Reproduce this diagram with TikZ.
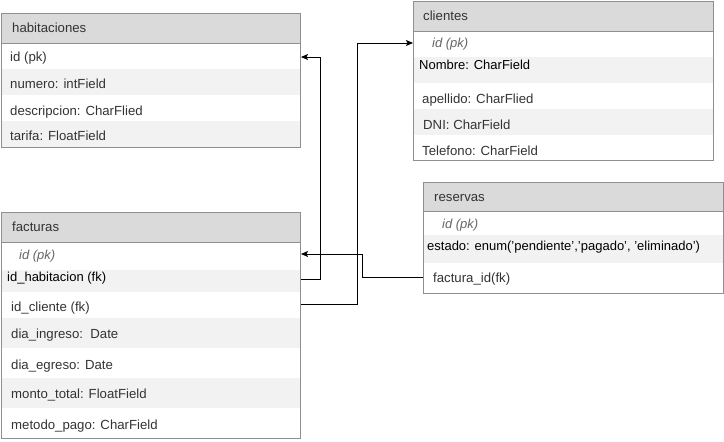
\documentclass[tikz,border=0pt]{standalone}
\usepackage{fontspec}
\setmainfont{Liberation Sans}
\usetikzlibrary{arrows.meta,calc}
\definecolor{bordergray}{HTML}{8F8F8F}
\definecolor{hdrgray}{HTML}{DADADA}
\definecolor{altgray}{HTML}{F2F2F2}
\definecolor{txt}{HTML}{333333}
\definecolor{pktxt}{HTML}{666666}
\tikzset{
  tbl/.style={draw=bordergray, line width=1pt, anchor=north west, inner sep=0pt, fill=none},
  fld/.style={anchor=west, inner sep=0pt, text height=9.4pt, text depth=0pt, text=txt,
    font=\fontsize{13.2}{15}\selectfont},
  fldb/.style={fld, text=black, font=\fontsize{13}{15}\selectfont},
  pk/.style={fld, text=pktxt, font=\fontsize{13}{15}\selectfont\itshape},
  conn/.style={draw=black, line width=1pt, -{Stealth[length=7pt,width=6pt,inset=1.5pt]}}
}
\begin{document}
\begin{tikzpicture}[x=1pt,y=-1pt]
\useasboundingbox (0,0) rectangle (724,442);

% ---------- habitaciones ----------
\fill[hdrgray] (1,13) rectangle (300,43);
\fill[altgray] (1,69) rectangle (300,95);
\fill[altgray] (1,121) rectangle (300,147);
\node[tbl, minimum width=299pt, minimum height=134pt] (hab) at (1,13) {};
\draw[bordergray, line width=1pt] (1,43) -- (300,43);
\node[fld] (habt) at (12,28) {habitaciones};
\node[fld] (habid) at (10,57) {id (pk)};
\node[fld] (habnum) at (10,84) {numero: intField};
\node[fld] (habdes) at (10,111) {descripcion: CharFlied};
\node[fld] (habtar) at (10,136) {tarifa: FloatField};

% ---------- clientes ----------
\fill[hdrgray] (413,1) rectangle (713,31);
\fill[altgray] (413,57) rectangle (713,83);
\fill[altgray] (413,109) rectangle (713,135);
\node[tbl, minimum width=300pt, minimum height=159pt] (cli) at (413,1) {};
\draw[bordergray, line width=1pt] (413,31) -- (713,31);
\node[fld] (clit) at (423,16) {clientes};
\node[pk] (cliid) at (432,43) {id (pk)};
\node[fldb] (clinom) at (419,65) {Nombre: CharField};
\node[fld] (cliape) at (422,99) {apellido: CharFlied};
\node[fld] (clidni) at (423,125) {DNI: CharField};
\node[fld] (clitel) at (422,151) {Telefono: CharField};

% ---------- facturas ----------
\fill[hdrgray] (1,212) rectangle (300,242);
\fill[altgray] (1,270) rectangle (300,292);
\fill[altgray] (1,318) rectangle (300,348);
\fill[altgray] (1,378) rectangle (300,408);
\node[tbl, minimum width=299pt, minimum height=226pt] (fac) at (1,212) {};
\draw[bordergray, line width=1pt] (1,242) -- (300,242);
\node[fld] (fact) at (12,227) {facturas};
\node[pk] (facid) at (19,255) {id (pk)};
\node[fldb] (fachab) at (7,277) {id\_habitacion (fk)};
\node[fld] (faccli) at (11,307) {id\_cliente (fk)};
\node[fld] (facing) at (11,334) {dia\_ingreso:\ \ Date};
\node[fld] (facegr) at (11,365) {dia\_egreso: Date};
\node[fld] (facmon) at (11,394) {monto\_total: FloatField};
\node[fld] (facmet) at (11,425) {metodo\_pago: CharField};

% ---------- reservas ----------
\fill[hdrgray] (423,182) rectangle (723,211);
\fill[altgray] (423,235) rectangle (723,263);
\node[tbl, minimum width=300pt, minimum height=111pt] (res) at (423,182) {};
\draw[bordergray, line width=1pt] (423,211) -- (723,211);
\node[fld] (rest) at (434,197) {reservas};
\node[pk] (resid) at (442,224) {id (pk)};
\node[fldb] (resest) at (427,246) {estado: enum('pendiente','pagado', 'eliminado')};
\node[fld] (resfac) at (433,278) {factura\_id(fk)};

% ---------- connectors ----------
\coordinate (c1a) at (fac.east |- 0,279);
\coordinate (c1b) at (hab.east |- 0,57);
\draw[conn] (c1a) -- (320,279) -- (320,57) -- (c1b);

\coordinate (c2a) at (fac.east |- 0,304);
\coordinate (c2b) at (cli.west |- 0,43);
\draw[conn] (c2a) -- (357,304) -- (357,43) -- (c2b);

\coordinate (c3a) at (res.west |- 0,277);
\coordinate (c3b) at (fac.east |- 0,254);
\draw[conn] (c3a) -- (362,277) -- (362,254) -- (c3b);
\end{tikzpicture}
\end{document}
